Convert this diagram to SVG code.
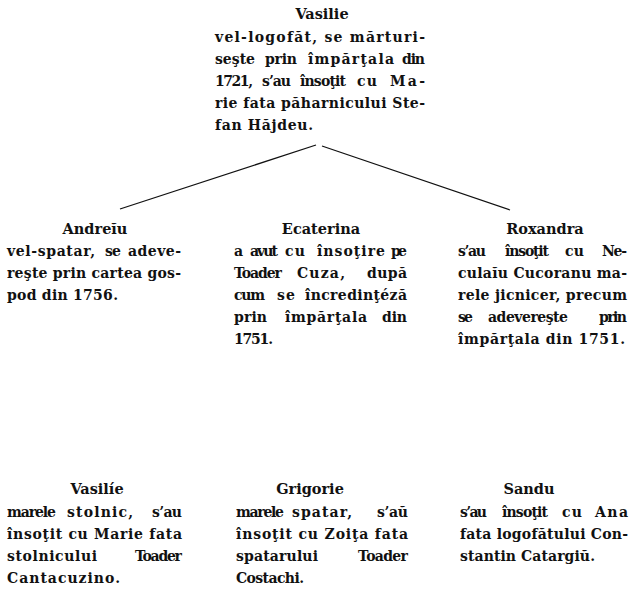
<svg xmlns="http://www.w3.org/2000/svg" width="635" height="591" viewBox="0 0 635 591">
<style>
  text { font-family: "DejaVu Serif", "Liberation Serif", serif; font-size: 14px; font-weight: bold; fill: #111; }
  .h { text-anchor: middle; font-size: 14.5px; }
  .edge { stroke: #111; stroke-width: 1.3; fill: none; }
</style>
<rect width="635" height="591" fill="#fff"/>
<g id="connectors">
  <line class="edge" x1="316" y1="145" x2="120" y2="209"/>
  <line class="edge" x1="322" y1="146" x2="510" y2="210"/>
</g>
<g id="node-vasilie-top">
  <text class="h" x="322" y="19">Vasilie</text>
  <text x="215" y="42" textLength="210" lengthAdjust="spacing">vel-logofăt, se mărturi-</text>
  <text x="215" y="64" textLength="40" lengthAdjust="spacing">seşte</text><text x="265" y="64" textLength="32" lengthAdjust="spacing">prin</text><text x="308" y="64" textLength="86" lengthAdjust="spacing">împărţala</text><text x="402" y="64" textLength="23" lengthAdjust="spacing">din</text>
  <text x="215" y="86" textLength="38" lengthAdjust="spacing">1721,</text><text x="262" y="86" textLength="29" lengthAdjust="spacing">s’au</text><text x="300" y="86" textLength="46" lengthAdjust="spacing">însoţit</text><text x="357" y="86" textLength="20" lengthAdjust="spacing">cu</text><text x="390" y="86" textLength="35" lengthAdjust="spacing">Ma-</text>
  <text x="215" y="108" textLength="210" lengthAdjust="spacing">rie fata păharnicului Ste-</text>
  <text x="215" y="130" textLength="98" lengthAdjust="spacing">fan Hăjdeu.</text>
</g>
<g id="node-andreiu">
  <text class="h" x="95" y="234">Andreĭu</text>
  <text x="7" y="256" textLength="88" lengthAdjust="spacing">vel-spatar,</text><text x="105" y="256" textLength="16" lengthAdjust="spacing">se</text><text x="128" y="256" textLength="53" lengthAdjust="spacing">adeve-</text>
  <text x="7" y="278" textLength="174" lengthAdjust="spacing">reşte prin cartea gos-</text>
  <text x="7" y="300" textLength="111" lengthAdjust="spacing">pod din 1756.</text>
</g>
<g id="node-ecaterina">
  <text class="h" x="321" y="234">Ecaterina</text>
  <text x="234" y="256">a</text><text x="250" y="256" textLength="28" lengthAdjust="spacing">avut</text><text x="285" y="256" textLength="20" lengthAdjust="spacing">cu</text><text x="317" y="256" textLength="68" lengthAdjust="spacing">însoţire</text><text x="391" y="256" textLength="16" lengthAdjust="spacing">pe</text>
  <text x="234" y="278" textLength="48" lengthAdjust="spacing">Toader</text><text x="297" y="278" textLength="48" lengthAdjust="spacing">Cuza,</text><text x="367" y="278" textLength="40" lengthAdjust="spacing">după</text>
  <text x="234" y="300" textLength="31" lengthAdjust="spacing">cum</text><text x="277" y="300" textLength="18" lengthAdjust="spacing">se</text><text x="305" y="300" textLength="102" lengthAdjust="spacing">încredinţéză</text>
  <text x="234" y="322" textLength="33" lengthAdjust="spacing">prin</text><text x="285" y="322" textLength="82" lengthAdjust="spacing">împărţala</text><text x="382" y="322" textLength="25" lengthAdjust="spacing">din</text>
  <text x="234" y="344" textLength="39" lengthAdjust="spacing">1751.</text>
</g>
<g id="node-roxandra">
  <text class="h" x="545" y="234">Roxandra</text>
  <text x="458" y="256" textLength="28" lengthAdjust="spacing">s’au</text><text x="505" y="256" textLength="44" lengthAdjust="spacing">însoţit</text><text x="565" y="256" textLength="19" lengthAdjust="spacing">cu</text><text x="602" y="256" textLength="25" lengthAdjust="spacing">Ne-</text>
  <text x="458" y="278" textLength="169" lengthAdjust="spacing">culaĭu Cucoranu ma-</text>
  <text x="458" y="300" textLength="169" lengthAdjust="spacing">rele jicnicer, precum</text>
  <text x="458" y="322" textLength="15" lengthAdjust="spacing">se</text><text x="488" y="322" textLength="80" lengthAdjust="spacing">adevereşte</text><text x="599" y="322" textLength="28" lengthAdjust="spacing">prin</text>
  <text x="458" y="344" textLength="167" lengthAdjust="spacing">împărţala din 1751.</text>
</g>
<g id="node-vasilie-bottom">
  <text class="h" x="97" y="494">Vasilíe</text>
  <text x="7" y="517" textLength="49" lengthAdjust="spacing">marele</text><text x="67" y="517" textLength="66" lengthAdjust="spacing">stolnic,</text><text x="152" y="517" textLength="30" lengthAdjust="spacing">s’au</text>
  <text x="7" y="539" textLength="175" lengthAdjust="spacing">însoţit cu Marie fata</text>
  <text x="7" y="561" textLength="90" lengthAdjust="spacing">stolnicului</text><text x="135" y="561" textLength="47" lengthAdjust="spacing">Toader</text>
  <text x="7" y="583" textLength="113" lengthAdjust="spacing">Cantacuzino.</text>
</g>
<g id="node-grigorie">
  <text class="h" x="310" y="494">Grigorie</text>
  <text x="236" y="517" textLength="48" lengthAdjust="spacing">marele</text><text x="292" y="517" textLength="60" lengthAdjust="spacing">spatar,</text><text x="377" y="517" textLength="31" lengthAdjust="spacing">s’aŭ</text>
  <text x="236" y="539" textLength="172" lengthAdjust="spacing">însoţit cu Zoiţa fata</text>
  <text x="236" y="561" textLength="82" lengthAdjust="spacing">spatarului</text><text x="358" y="561" textLength="50" lengthAdjust="spacing">Toader</text>
  <text x="236" y="583" textLength="68" lengthAdjust="spacing">Costachi.</text>
</g>
<g id="node-sandu">
  <text class="h" x="529" y="494">Sandu</text>
  <text x="460" y="517" textLength="27" lengthAdjust="spacing">s’au</text><text x="502" y="517" textLength="46" lengthAdjust="spacing">însoţit</text><text x="562" y="517" textLength="20" lengthAdjust="spacing">cu</text><text x="595" y="517" textLength="33" lengthAdjust="spacing">Ana</text>
  <text x="460" y="539" textLength="168" lengthAdjust="spacing">fata logofătului Con-</text>
  <text x="460" y="561" textLength="135" lengthAdjust="spacing">stantin Catargiŭ.</text>
</g>
</svg>
